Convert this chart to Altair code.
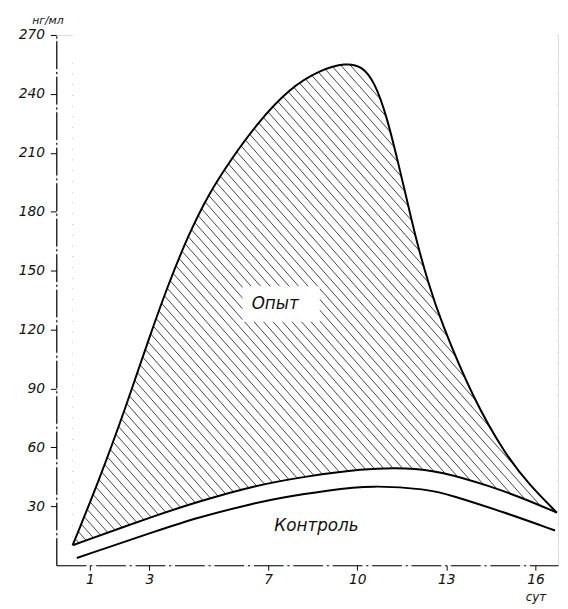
import altair as alt
import numpy as np
import pandas as pd

# ---- data (days, ng/ml) ----
exp_days = [0.42, 1.3, 2.2, 3.0, 3.6, 4.3, 5.0, 5.8, 6.6, 7.7, 8.8, 9.6, 10.16, 10.6, 11.0, 11.35, 11.7, 12.0, 12.4, 12.8, 13.9, 15.0, 15.8, 16.72]
exp_vals = [10.2, 42.9, 80.0, 116.0, 141.4, 167.7, 189.2, 207.7, 224.3, 242.8, 252.5, 255.7, 254.3, 245.7, 228.2, 206.7, 184.3, 164.8, 143.3, 124.8, 84.8, 56.1, 40.8, 26.8]

mid_days = [0.42, 3.29, 4.61, 6.60, 8.26, 10.16, 11.68, 12.81, 14.47, 15.57, 16.72]
mid_vals = [10.2, 25.8, 32.2, 40.8, 45.2, 49.2, 49.7, 47.8, 40.3, 34.2, 26.8]

ctl_days = [0.56, 3.29, 4.61, 6.60, 7.37, 9.03, 10.49, 12.35, 13.14, 15.0, 16.66]
ctl_vals = [3.7, 17.7, 24.3, 31.8, 34.3, 38.2, 40.8, 38.8, 35.8, 26.7, 17.7]

x_ticks = [1, 3, 7, 10, 13, 16]
y_ticks = [30, 60, 90, 120, 150, 180, 210, 240, 270]

labels_text = ["Опыт", "Контроль"]
labels_d = [7.24, 8.63]
labels_v = [133.0, 20.0]

X_DOM = [-0.13, 16.76]
Y_DOM = [0, 270]
CURVE = "basis"

upper = pd.DataFrame({"d": exp_days, "v": exp_vals})
middle = pd.DataFrame({"d": mid_days, "v": mid_vals})
lower = pd.DataFrame({"d": ctl_days, "v": ctl_vals})
labels = pd.DataFrame({"d": labels_d, "v": labels_v, "t": labels_text})

# ---- hatching (decoration), diagonal lines clipped to region bbox ----
k = 17.1       # value units per day (visual slope ~48 deg)
step = 0.32    # days between hatch lines
d0, d1 = exp_days[0], exp_days[-1]
vmin, vmax = 9.5, 257.0
rows = []
a = d0 + vmin / k
while a < d1 + vmax / k:
    vlo = max(vmin, k * (a - d1))
    vhi = min(vmax, k * (a - d0))
    if vhi > vlo:
        rows.append({"d": a - vlo / k, "v": vlo, "d2": a - vhi / k, "v2": vhi})
    a += step
hatch = pd.DataFrame(rows)

font = "DejaVu Sans"
x_axis = alt.Axis(values=x_ticks, title="сут", grid=False, tickSize=5, tickColor="black",
                  domainColor="black", domainWidth=1.2, domainDash=[30, 4, 2, 4],
                  labelFont=font, labelFontStyle="italic", labelFontSize=14, labelColor="#111",
                  labelPadding=3, titleFont=font, titleFontStyle="italic", titleFontWeight="normal",
                  titleFontSize=12, titleColor="#111", titleX=486, titleY=32,
                  titleAlign="center", titleBaseline="middle", zindex=1)
y_axis = alt.Axis(values=y_ticks, title="нг/мл", grid=False, tickSize=6, tickColor="black",
                  domainColor="black", domainWidth=1.2, domainDash=[28, 3, 2, 3],
                  labelFont=font, labelFontStyle="italic", labelFontSize=14, labelColor="#111",
                  labelPadding=6, titleFont=font, titleFontStyle="italic", titleFontWeight="normal",
                  titleFontSize=11, titleColor="#111", titleAngle=0, titleX=-9, titleY=-15,
                  titleAlign="center", titleBaseline="middle", zindex=1)

X = alt.X("d:Q", scale=alt.Scale(domain=X_DOM, nice=False, zero=False), axis=x_axis)
Y = alt.Y("v:Q", scale=alt.Scale(domain=Y_DOM, nice=False), axis=y_axis)

hatch_layer = alt.Chart(hatch).mark_rule(color="#444", strokeWidth=1).encode(
    x=X, y=Y, x2="d2:Q", y2="v2:Q")
cover_top = alt.Chart(upper).mark_area(color="white", interpolate=CURVE).encode(
    x=X, y=Y, y2=alt.datum(270))
cover_bot = alt.Chart(middle).mark_area(color="white", interpolate=CURVE).encode(
    x=X, y=Y, y2=alt.datum(0))
label_bg = alt.Chart(labels.iloc[[0]]).mark_rect(color="white").encode(
    x=alt.X("x1:Q", scale=alt.Scale(domain=X_DOM, nice=False, zero=False), axis=x_axis),
    x2="x2:Q",
    y=alt.Y("y1:Q", scale=alt.Scale(domain=Y_DOM, nice=False), axis=y_axis),
    y2="y2:Q").transform_calculate(x1="datum.d - 1.1", x2="datum.d + 1.5",
                                   y1="datum.v - 9", y2="datum.v + 9")
line_style = dict(color="black", strokeWidth=2, interpolate=CURVE)
l_up = alt.Chart(upper).mark_line(**line_style).encode(x=X, y=Y)
l_mid = alt.Chart(middle).mark_line(**line_style).encode(x=X, y=Y)
l_low = alt.Chart(lower).mark_line(**line_style).encode(x=X, y=Y)
txt = alt.Chart(labels).mark_text(font=font, fontStyle="italic", fontSize=17, color="#111").encode(
    x=X, y=Y, text="t:N")

chart = alt.layer(hatch_layer, cover_top, cover_bot, label_bg, l_up, l_mid, l_low, txt).properties(
    width=509, height=538,
    autosize=alt.AutoSizeParams(type="none"),
    padding={"left": 49, "top": 23, "right": 2, "bottom": 39},
).configure_view(stroke=None).configure(background="white")

chart.save("out.html", embed_options={"renderer": "svg", "actions": False})
